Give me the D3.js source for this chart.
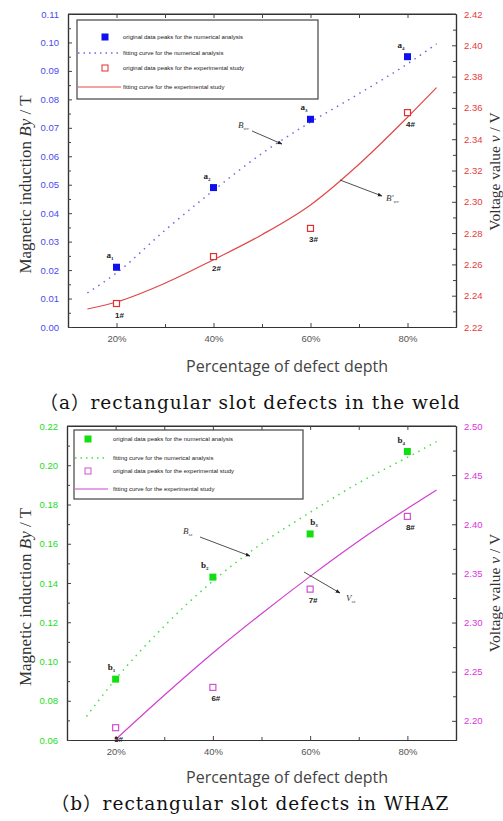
<!DOCTYPE html>
<html>
<head>
<meta charset="utf-8">
<script src="https://cdn.jsdelivr.net/npm/d3@7"></script>
<style>
  html, body { margin: 0; padding: 0; background: #fff; }
  svg { display: block; }
</style>
</head>
<body>
<svg id="fig" width="503" height="821"></svg>
<script>
// ---- data -------------------------------------------------------------
const depthTicks = [20, 40, 60, 80];
const depthTickLabels = ["20%", "40%", "60%", "80%"];

// (a) weld
const weldDepth = [20, 40, 60, 80];
const weldByPeaks = [0.021, 0.049, 0.073, 0.095];          // a1..a4
const weldByFitDepth = [14, 20, 30, 40, 50, 60, 70, 80, 86];
const weldByFit = [0.012, 0.019, 0.034, 0.048, 0.061, 0.072, 0.082, 0.0925, 0.0995];
const weldVPeaks = [2.235, 2.265, 2.283, 2.357];           // 1#..4#
const weldVFitDepth = [14, 20, 30, 40, 50, 60, 70, 80, 86];
const weldVFit = [2.2315, 2.236, 2.248, 2.263, 2.279, 2.298, 2.324, 2.354, 2.373];
const weldByTicks = [0.00, 0.01, 0.02, 0.03, 0.04, 0.05, 0.06, 0.07, 0.08, 0.09, 0.10, 0.11];
const weldVTicks = [2.22, 2.24, 2.26, 2.28, 2.30, 2.32, 2.34, 2.36, 2.38, 2.40, 2.42];
const weldPeakNames = ["a1", "a2", "a3", "a4"];
const weldExpNames = ["1#", "2#", "3#", "4#"];

// (b) WHAZ
const hazDepth = [20, 40, 60, 80];
const hazByPeaks = [0.091, 0.143, 0.165, 0.207];           // b1..b4
const hazByFitDepth = [14, 20, 30, 40, 50, 60, 70, 80, 86];
const hazByFit = [0.072, 0.091, 0.118, 0.141, 0.160, 0.176, 0.191, 0.204, 0.212];
const hazVPeaks = [2.193, 2.234, 2.334, 2.408];            // 5#..8#
const hazVFitDepth = [20, 30, 40, 50, 60, 70, 80, 86];
const hazVFit = [2.181, 2.226, 2.269, 2.309, 2.347, 2.383, 2.416, 2.435];
const hazByTicks = [0.06, 0.08, 0.10, 0.12, 0.14, 0.16, 0.18, 0.20, 0.22];
const hazVTicks = [2.20, 2.25, 2.30, 2.35, 2.40, 2.45, 2.50];
const hazPeakNames = ["b1", "b2", "b3", "b4"];
const hazExpNames = ["5#", "6#", "7#", "8#"];

const legendTexts = [
  "original data peaks for the numerical analysis",
  "fitting curve for the numerical analysis",
  "original data peaks for the experimental study",
  "fitting curve for the experimental study"
];

// ---- drawing ----------------------------------------------------------
const svg = d3.select("#fig");
const tickFont = "9.5px 'Liberation Sans', Arial, sans-serif";

function panel(cfg) {
  const { left, right, top, bottom } = cfg.box;
  const x = d3.scaleLinear().domain([10, 90]).range([left, right]);
  const yL = d3.scaleLinear().domain(cfg.byDomain).range([bottom, top]);
  const yR = d3.scaleLinear().domain(cfg.vDomain).range([bottom, top]);
  const g = svg.append("g");

  // frame axes (ticks pointing inward)
  const xAxis = d3.axisBottom(x).tickValues(depthTicks).tickFormat((d, i) => depthTickLabels[i])
    .tickSizeInner(-4).tickSizeOuter(0).tickPadding(8);
  const xMinor = d3.axisBottom(x).tickValues([30, 50, 70]).tickFormat("").tickSizeInner(-3).tickSizeOuter(0);
  const xTop = d3.axisTop(x).tickValues([20, 30, 40, 50, 60, 70, 80]).tickFormat("").tickSizeInner(-4).tickSizeOuter(0);

  const gx = g.append("g").attr("transform", `translate(0,${bottom})`).call(xAxis);
  g.append("g").attr("transform", `translate(0,${bottom})`).call(xMinor);
  g.append("g").attr("transform", `translate(0,${top})`).call(xTop);
  gx.selectAll("text").attr("fill", "#555").style("font", tickFont);

  const yAxisL = d3.axisLeft(yL).tickValues(cfg.byTicks).tickFormat(d3.format(".2f"))
    .tickSizeInner(-4).tickSizeOuter(0).tickPadding(9);
  const yMinorL = d3.axisLeft(yL).tickValues(cfg.byMinor).tickFormat("").tickSizeInner(-3).tickSizeOuter(0);
  const gyl = g.append("g").attr("transform", `translate(${left},0)`).call(yAxisL);
  g.append("g").attr("transform", `translate(${left},0)`).call(yMinorL);
  gyl.selectAll("text").attr("fill", cfg.leftTickColor).style("font", tickFont);

  const yAxisR = d3.axisRight(yR).tickValues(cfg.vTicks).tickFormat(d3.format(".2f"))
    .tickSizeInner(-4).tickSizeOuter(0).tickPadding(8);
  const yMinorR = d3.axisRight(yR).tickValues(cfg.vMinor).tickFormat("").tickSizeInner(-3).tickSizeOuter(0);
  const gyr = g.append("g").attr("transform", `translate(${right},0)`).call(yAxisR);
  g.append("g").attr("transform", `translate(${right},0)`).call(yMinorR);
  gyr.selectAll("text").attr("fill", cfg.rightTickColor).style("font", tickFont);

  g.selectAll(".domain").attr("stroke", "#333").attr("stroke-width", 1.2);
  g.selectAll(".tick line").attr("stroke", "#444");
  // top border line
  g.append("line").attr("x1", left).attr("x2", right).attr("y1", top).attr("y2", top)
    .attr("stroke", "#333").attr("stroke-width", 1.2);

  // fitting curves
  const lineBy = d3.line().x((d, i) => x(cfg.byFitDepth[i])).y(d => yL(d)).curve(d3.curveMonotoneX);
  const lineV = d3.line().x((d, i) => x(cfg.vFitDepth[i])).y(d => yR(d)).curve(d3.curveMonotoneX);
  g.append("path").attr("class", "fit-num").datum(cfg.byFit).attr("d", lineBy).attr("fill", "none")
    .attr("stroke", cfg.numColor).attr("stroke-width", 1.5).attr("stroke-dasharray", "1.5,5");
  g.append("path").attr("class", "fit-exp").datum(cfg.vFit).attr("d", lineV).attr("fill", "none")
    .attr("stroke", cfg.expColor).attr("stroke-width", 1.2);

  // peak markers
  g.selectAll("rect.num-peak").data(cfg.byPeaks).join("rect").attr("class", "num-peak")
    .attr("x", (d, i) => x(cfg.depth[i]) - 3.5).attr("y", d => yL(d) - 3.5)
    .attr("width", 7).attr("height", 7).attr("fill", cfg.numMark);
  g.selectAll("rect.exp-peak").data(cfg.vPeaks).join("rect").attr("class", "exp-peak")
    .attr("x", (d, i) => x(cfg.depth[i]) - 3).attr("y", d => yR(d) - 3)
    .attr("width", 6).attr("height", 6)
    .style("fill", "#fff").style("stroke", cfg.expMark).style("stroke-width", "1.2px");

  // point names
  g.selectAll("text.num-name").data(cfg.byPeaks).join("text").attr("class", "num-name")
    .attr("x", (d, i) => x(cfg.depth[i]) + cfg.nameDx[i]).attr("y", d => yL(d) + cfg.nameDy)
    .style("font", "bold 9px 'Liberation Serif', serif").attr("fill", "#222")
    .each(function(d, i) {
      const t = d3.select(this);
      t.append("tspan").text(cfg.peakNames[i][0]);
      t.append("tspan").attr("dy", 2).style("font-size", "5px").text(cfg.peakNames[i].slice(1));
    });
  g.selectAll("text.exp-name").data(cfg.vPeaks).join("text").attr("class", "exp-name")
    .attr("x", (d, i) => x(cfg.depth[i]) + 3).attr("y", d => yR(d) + 14)
    .attr("text-anchor", "middle")
    .style("font", "bold 8px 'Liberation Sans', sans-serif").attr("fill", "#222")
    .text((d, i) => cfg.expNames[i]);

  // curve annotations with arrows
  cfg.notes.forEach(n => {
    g.append("line").attr("x1", n.from[0]).attr("y1", n.from[1]).attr("x2", n.to[0]).attr("y2", n.to[1])
      .attr("stroke", "#222").attr("stroke-width", 0.8).attr("marker-end", "url(#arrow)");
    const t = g.append("text").attr("x", n.at[0]).attr("y", n.at[1])
      .style("font", "italic 9px 'Liberation Serif', serif").attr("fill", "#333");
    t.append("tspan").text(n.main);
    t.append("tspan").attr("dy", 2).style("font-size", "5px").text(n.sub);
  });

  // legend
  const lg = g.append("g");
  const L = cfg.legend;
  lg.append("rect").attr("x", L.x).attr("y", L.y).attr("width", L.w).attr("height", L.h)
    .attr("fill", "#fff").attr("stroke", "#444").attr("stroke-width", 1.2);
  const rowY = L.rows;
  lg.append("rect").attr("x", L.symX - 3.5).attr("y", rowY[0] - 3.5).attr("width", 7).attr("height", 7).attr("fill", cfg.numMark);
  lg.append("line").attr("x1", L.lineX0).attr("x2", L.lineX1).attr("y1", rowY[1]).attr("y2", rowY[1])
    .attr("stroke", cfg.numColor).attr("stroke-width", 1.5).attr("stroke-dasharray", "1.5,4");
  lg.append("rect").attr("x", L.symX - 3).attr("y", rowY[2] - 3).attr("width", 6).attr("height", 6)
    .style("fill", "#fff").style("stroke", cfg.expMark);
  lg.append("line").attr("x1", L.lineX0).attr("x2", L.lineX1).attr("y1", rowY[3]).attr("y2", rowY[3])
    .attr("stroke", cfg.expColor).attr("stroke-width", 1.2);
  lg.selectAll("text.legend-label").data(legendTexts).join("text").attr("class", "legend-label")
    .attr("x", L.textX).attr("y", (d, i) => rowY[i] + 2)
    .style("font", "6px 'Liberation Sans', Arial, sans-serif").attr("fill", "#222")
    .text(d => d);

  // axis titles
  const cyMid = (top + bottom) / 2;
  const lt = g.append("text").attr("transform", `translate(${cfg.leftTitleX},${cyMid + cfg.leftTitleDy}) rotate(-90)`)
    .attr("text-anchor", "middle").style("font", "17px 'Liberation Serif', 'Times New Roman', serif").attr("fill", "#333");
  lt.append("tspan").text("Magnetic induction ");
  lt.append("tspan").style("font-style", "italic").text("By");
  lt.append("tspan").text(" / T");
  const rt = g.append("text").attr("transform", `translate(${cfg.rightTitleX},${cyMid + cfg.rightTitleDy}) rotate(-90)`)
    .attr("text-anchor", "middle").style("font", "15.5px 'Liberation Serif', 'Times New Roman', serif").attr("fill", "#333");
  rt.append("tspan").text("Voltage value ");
  rt.append("tspan").style("font-style", "italic").text("v");
  rt.append("tspan").text(" / V");

  g.append("text").attr("x", 287).attr("y", cfg.xTitleY).attr("text-anchor", "middle")
    .style("font", "16px 'Open Sans', 'DejaVu Sans', sans-serif").attr("fill", "#444")
    .text("Percentage of defect depth");

  g.append("text").attr("x", cfg.captionX).attr("y", cfg.captionY).attr("text-anchor", "middle")
    .style("font", "18.5px 'DejaVu Serif', 'Noto Sans CJK SC', serif").style("letter-spacing", "1px")
    .attr("fill", "#111")
    .text(cfg.caption);
}

// arrow head
svg.append("defs").append("marker").attr("id", "arrow").attr("viewBox", "0 0 10 10")
  .attr("refX", 9).attr("refY", 5).attr("markerWidth", 6).attr("markerHeight", 6).attr("orient", "auto")
  .append("path").attr("d", "M0,1 L10,5 L0,9 z").attr("fill", "#222");

panel({
  box: { left: 68, right: 456, top: 14, bottom: 327 },
  byDomain: [0, 0.11], vDomain: [2.22, 2.42],
  byTicks: weldByTicks, byMinor: d3.range(0.005, 0.11, 0.01),
  vTicks: weldVTicks, vMinor: d3.range(2.23, 2.42, 0.02),
  leftTickColor: "#4a4aee", rightTickColor: "#e83a3a",
  numColor: "#6a6ae6", expColor: "#e04848", numMark: "#1010ee", expMark: "#e03030",
  depth: weldDepth, byPeaks: weldByPeaks, byFitDepth: weldByFitDepth, byFit: weldByFit,
  vPeaks: weldVPeaks, vFitDepth: weldVFitDepth, vFit: weldVFit,
  peakNames: weldPeakNames, expNames: weldExpNames,
  nameDx: [-10, -10, -10, -10], nameDy: -9,
  notes: [
    { main: "B", sub: "wv", at: [238, 128], from: [252, 131], to: [282, 144] },
    { main: "B'", sub: "wv", at: [386, 201], from: [340, 180], to: [382, 196] }
  ],
  legend: { x: 77, y: 20, w: 241, h: 79, rows: [37, 53, 68, 87], symX: 105, lineX0: 78, lineX1: 121, textX: 123 },
  leftTitleX: 31, leftTitleDy: 14, rightTitleX: 500, rightTitleDy: 1,
  xTitleY: 372, captionX: 250, captionY: 409,
  caption: "（a）rectangular slot defects in the weld"
});

panel({
  box: { left: 67, right: 456, top: 426, bottom: 740 },
  byDomain: [0.06, 0.22], vDomain: [2.1805, 2.50],
  byTicks: hazByTicks, byMinor: d3.range(0.07, 0.22, 0.02),
  vTicks: hazVTicks, vMinor: d3.range(2.225, 2.50, 0.05),
  leftTickColor: "#22dd22", rightTickColor: "#dd33dd",
  numColor: "#44dd44", expColor: "#d040d0", numMark: "#10e010", expMark: "#d050d0",
  depth: hazDepth, byPeaks: hazByPeaks, byFitDepth: hazByFitDepth, byFit: hazByFit,
  vPeaks: hazVPeaks, vFitDepth: hazVFitDepth, vFit: hazVFit,
  peakNames: hazPeakNames, expNames: hazExpNames,
  nameDx: [-8, -12, 0, -10], nameDy: -9,
  notes: [
    { main: "B", sub: "sz", at: [183, 534], from: [200, 537], to: [250, 556] },
    { main: "V", sub: "sz", at: [346, 601], from: [304, 572], to: [340, 593] }
  ],
  legend: { x: 74, y: 430, w: 229, h: 69, rows: [439, 458, 471, 489], symX: 88, lineX0: 75, lineX1: 108, textX: 113 },
  leftTitleX: 31, leftTitleDy: 14, rightTitleX: 500, rightTitleDy: 10,
  xTitleY: 783, captionX: 250, captionY: 810,
  caption: "（b）rectangular slot defects in WHAZ"
});
</script>
</body>
</html>
